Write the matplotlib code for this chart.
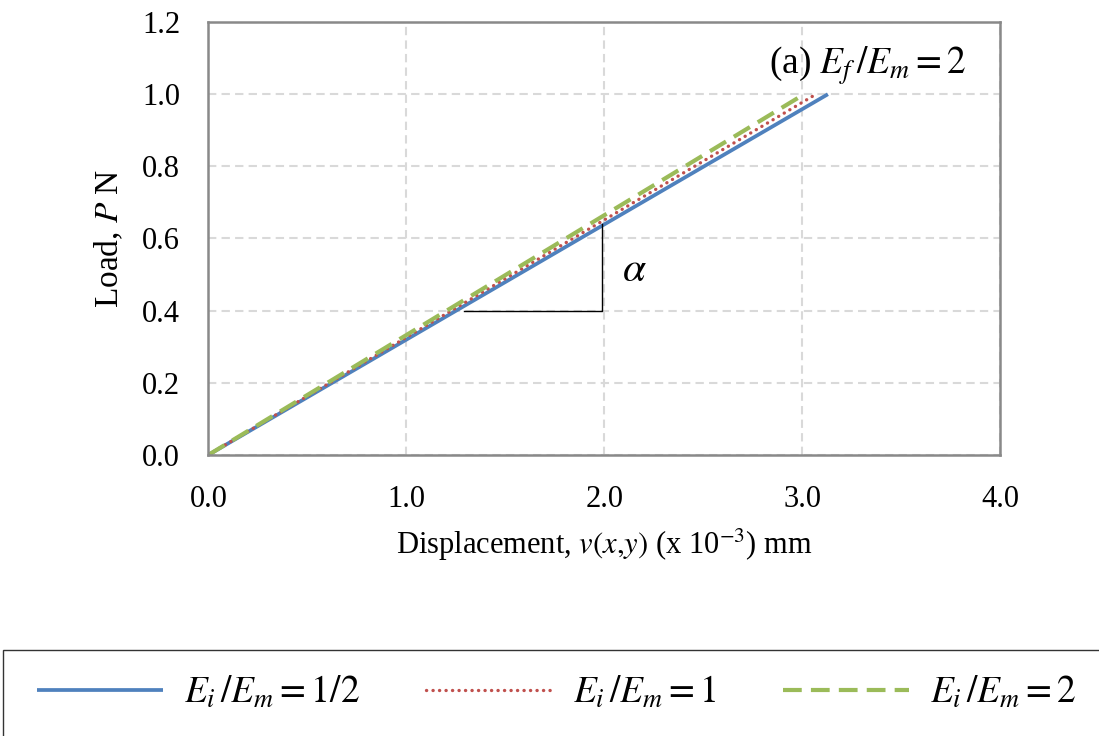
import matplotlib.pyplot as plt
from matplotlib.patches import Rectangle

plt.rcParams['font.family'] = ['Liberation Serif', 'DejaVu Serif']
plt.rcParams['mathtext.fontset'] = 'stix'

# data (displacement in 1e-3 mm, load in N)
disp_half = [0.0, 3.13]
load_half = [0.0, 1.0]
disp_one = [0.0, 3.07]
load_one = [0.0, 1.0]
disp_two = [0.0, 3.01]
load_two = [0.0, 1.0]

labels = [r'$E_i\,/E_m = 1/2$', r'$E_i\,/E_m = 1$', r'$E_i\,/E_m = 2$']

# slope triangle marker
tri_x = [1.29, 1.99, 1.99]
tri_y = [0.40, 0.40, 0.64]

xticks = [0.0, 1.0, 2.0, 3.0, 4.0]
yticks = [0.0, 0.2, 0.4, 0.6, 0.8, 1.0, 1.2]

fig = plt.figure(figsize=(10.99, 7.36), dpi=100)
ax = fig.add_axes([0.1897, 0.382, 0.7203, 0.588])

ax.plot(disp_half, load_half, color='#4F81BD', lw=2.7, solid_capstyle='butt')
ax.plot(disp_one, load_one, color='#C0504D', lw=2.4, ls=(0, (0.05, 1.9)),
        dash_capstyle='round')
ax.plot(disp_two, load_two, color='#9BBB59', lw=3.0, ls=(0, (4.5, 2.2)))
ax.plot(tri_x, tri_y, color='black', lw=1.0)

ax.set_xlim(0, 4)
ax.set_ylim(0, 1.2)
ax.set_xticks(xticks)
ax.set_yticks(yticks)
ax.set_xticklabels([f'{v:.1f}' for v in xticks])
ax.set_yticklabels([f'{v:.1f}' for v in yticks])
ax.tick_params(length=0, labelsize=22)
ax.tick_params(axis='x', pad=22)
ax.tick_params(axis='y', pad=20.5)
ax.grid(True, color='#D9D9D9', lw=1.5, ls=(0, (4, 2.5)))
ax.set_axisbelow(True)
for s in ax.spines.values():
    s.set_color('#898989')
    s.set_linewidth(1.8)

ax.set_xlabel(r'Displacement, $v(x{,}y)$ (x 10$^{-3}$) mm', fontsize=22, labelpad=9)
ax.set_ylabel(r'Load, $P$ N', fontsize=24, labelpad=12)

ax.text(3.33, 1.08, r'(a) $E_f\,/E_m = 2$', fontsize=27, ha='center', va='center')
ax.text(2.15, 0.51, r'$\alpha$', fontsize=30, ha='center', va='center')

fig.patches.append(Rectangle((3 / 1099, -0.05), 1.05, 0.05 + 1 - 650 / 736,
                             transform=fig.transFigure, fill=False,
                             edgecolor='#333333', lw=1.0))
fig.legend(ax.lines[:3], labels, loc='center', bbox_to_anchor=(0.507, 0.058),
           ncol=3, frameon=False, fontsize=27, handlelength=3.36,
           handletextpad=0.56, columnspacing=1.76)

fig.savefig('out.png', dpi=100)
